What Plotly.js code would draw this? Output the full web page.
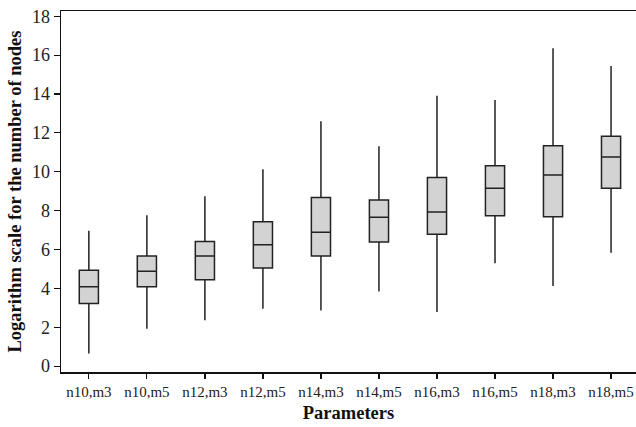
<!DOCTYPE html>
<html>
<head>
<meta charset="utf-8">
<script src="https://cdn.plot.ly/plotly-3.0.1.min.js"></script>
<style>html,body{margin:0;padding:0;background:#fff;}#chart{width:636px;height:427px;}</style>
</head>
<body>
<div id="chart"></div>
<script>
const categories = ["n10,m3","n10,m5","n12,m3","n12,m5","n14,m3","n14,m5","n16,m3","n16,m5","n18,m3","n18,m5"];
const lowerWhisker = [0.65, 1.93, 2.36, 2.96, 2.86, 3.84, 2.79, 5.30, 4.13, 5.84];
const q1Values     = [3.22, 4.08, 4.45, 5.05, 5.67, 6.39, 6.79, 7.74, 7.69, 9.15];
const medianValues = [4.08, 4.88, 5.67, 6.24, 6.89, 7.66, 7.93, 9.15, 9.84, 10.76];
const q3Values     = [4.94, 5.67, 6.41, 7.43, 8.67, 8.55, 9.70, 10.31, 11.34, 11.83];
const upperWhisker = [6.96, 7.76, 8.74, 10.13, 12.60, 11.31, 13.91, 13.69, 16.35, 15.44];

const trace = {
  type: "box",
  x: categories,
  q1: q1Values,
  median: medianValues,
  q3: q3Values,
  lowerfence: lowerWhisker,
  upperfence: upperWhisker,
  fillcolor: "#d3d3d3",
  line: {color: "#222", width: 1.5},
  whiskerwidth: 0,
  width: 0.33,
  boxpoints: false,
  showlegend: false,
  hoverinfo: "skip"
};

const serif = "'Liberation Serif', 'Times New Roman', serif";
const layout = {
  width: 636, height: 427,
  margin: {l: 61, r: 0, t: 11, b: 55},
  paper_bgcolor: "#fff", plot_bgcolor: "#fff",
  font: {family: serif, color: "#222"},
  xaxis: {
    type: "category",
    range: [-0.48, 9.43],
    showline: true, linecolor: "#111", linewidth: 1.5, mirror: true,
    ticks: "outside", ticklen: 5, tickcolor: "#111", tickwidth: 1.2,
    showgrid: false, zeroline: false,
    tickfont: {family: serif, size: 15, color: "#222"},
    title: {text: "<b>Parameters</b>", font: {family: serif, size: 18.5, color: "#111"}, standoff: 7}
  },
  yaxis: {
    range: [-0.3, 18.27],
    tickvals: [0,2,4,6,8,10,12,14,16,18],
    showline: true, linecolor: "#111", linewidth: 1.5,
    ticks: "outside", ticklen: 6, tickcolor: "#111", tickwidth: 1.2,
    showgrid: false, zeroline: false,
    tickfont: {family: serif, size: 18, color: "#222"},
    title: {text: "<b>Logarithm scale for the number of nodes</b>", font: {family: serif, size: 18.5, color: "#111"}, standoff: 5}
  }
};

Plotly.newPlot("chart", [trace], layout, {displayModeBar: false, staticPlot: true});
</script>
</body>
</html>
